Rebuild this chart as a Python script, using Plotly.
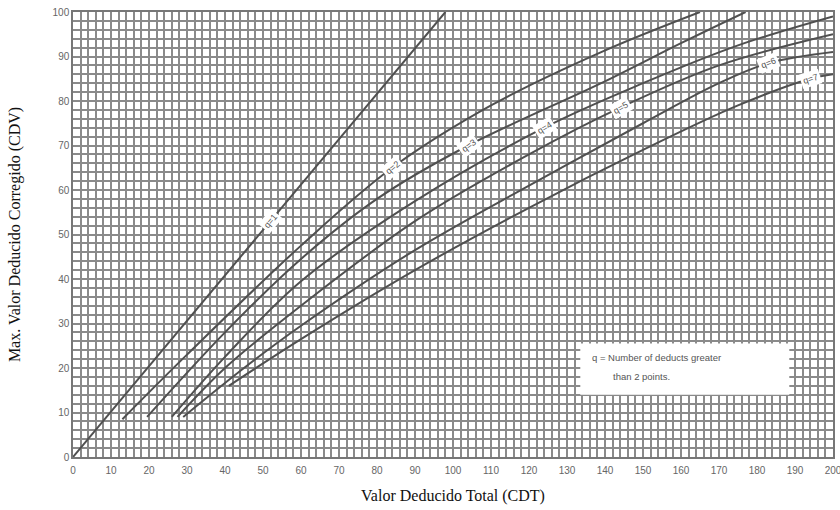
import plotly.graph_objects as go

# ---- data ----
q1_x = [0, 98]
q1_y = [0, 100]
q2_x = [13, 30, 60, 84, 110, 139, 165]
q2_y = [8.5, 23, 47.5, 65, 79, 91, 100]
q3_x = [19.5, 40, 60, 80, 104, 139, 160, 177]
q3_y = [9, 28, 44.5, 58, 70, 84, 93, 100]
q4_x = [26, 40, 60, 90, 124, 150, 175, 200]
q4_y = [9, 22.5, 39.5, 57.5, 74, 84, 92.5, 99]
q5_x = [27.5, 40, 60, 90, 120, 144, 170, 200]
q5_y = [9, 20, 34, 53, 68, 78.5, 88, 95]
q6_x = [29, 45, 60, 90, 120, 150, 170, 183, 200]
q6_y = [9, 20, 29.5, 46.5, 61, 75, 84, 88.5, 91]
q7_x = [41, 60, 90, 120, 150, 175, 194, 200]
q7_y = [16, 26.5, 42, 56, 69, 79, 85, 86]

curve_names = ["q=1", "q=2", "q=3", "q=4", "q=5", "q=6", "q=7"]
curves_x = [q1_x, q2_x, q3_x, q4_x, q5_x, q6_x, q7_x]
curves_y = [q1_y, q2_y, q3_y, q4_y, q5_y, q6_y, q7_y]

# curve label positions (x, y, angle)
label_x = [52, 84, 104, 124, 144, 183, 194]
label_y = [53, 65, 70, 74, 78.5, 88.5, 85]
label_ang = [-50, -40, -36, -32, -30, -22, -18]

x_ticks = list(range(0, 201, 10))
y_ticks = list(range(0, 101, 10))

fig = go.Figure()
for cx, cy, nm in zip(curves_x, curves_y, curve_names):
    fig.add_trace(go.Scatter(x=cx, y=cy, mode="lines", name=nm,
                             line=dict(color="#505050", width=2, shape="spline", smoothing=1.0),
                             hoverinfo="skip", showlegend=False))

for nm, lx, ly, la in zip(curve_names, label_x, label_y, label_ang):
    fig.add_annotation(x=lx, y=ly, text=nm, showarrow=False, textangle=la,
                       font=dict(family="Liberation Sans", size=9, color="#555"),
                       bgcolor="white", borderpad=2)

# legend note box
fig.add_shape(type="rect", x0=133.5, x1=188.5, y0=14, y1=25.5,
              fillcolor="white", line=dict(width=0), layer="above")
fig.add_annotation(x=136, y=22.3, xanchor="left", text="q = Number of deducts greater",
                   showarrow=False, font=dict(family="Liberation Sans", size=9.5, color="#555"))
fig.add_annotation(x=141.5, y=18.2, xanchor="left", text="than 2 points.",
                   showarrow=False, font=dict(family="Liberation Sans", size=9.5, color="#555"))

grid_col = "#8a8a8a"
fig.update_xaxes(range=[0, 200], tickvals=x_ticks, ticktext=[str(v) for v in x_ticks],
                 showgrid=True, gridcolor=grid_col, gridwidth=1.7,
                 minor=dict(dtick=2, showgrid=True, gridcolor=grid_col, gridwidth=1.7),
                 showline=True, linecolor="#777", linewidth=1.5, mirror=True,
                 zeroline=False, ticks="outside", ticklen=3, tickcolor="rgba(0,0,0,0)",
                 automargin=False, ticklabeloverflow="allow",
                 tickfont=dict(family="Liberation Sans", size=10, color="#666"),
                 title=dict(text="Valor Deducido Total (CDT)", standoff=15,
                            font=dict(family="Liberation Serif", size=16, color="#111")))
fig.update_yaxes(range=[0, 100], tickvals=y_ticks, ticktext=[str(v) for v in y_ticks],
                 showgrid=True, gridcolor=grid_col, gridwidth=1.7,
                 minor=dict(dtick=2, showgrid=True, gridcolor=grid_col, gridwidth=1.7),
                 showline=True, linecolor="#777", linewidth=1.5, mirror=True,
                 zeroline=False, ticks="", automargin=False, ticklabeloverflow="allow",
                 tickfont=dict(family="Liberation Sans", size=10, color="#666"),
                 title=dict(text="Max. Valor Deducido Corregido (CDV)", standoff=28,
                            font=dict(family="Liberation Serif", size=16, color="#111")))

fig.update_layout(width=840, height=510, margin=dict(l=73, r=7, t=12, b=53),
                  plot_bgcolor="white", paper_bgcolor="white")

# remove the default 8px page margin so the figure fills the 840x510 window
fig.write_html("out.html", config={"displayModeBar": False},
               post_script="document.body.style.margin='0';document.body.style.overflow='hidden';")
